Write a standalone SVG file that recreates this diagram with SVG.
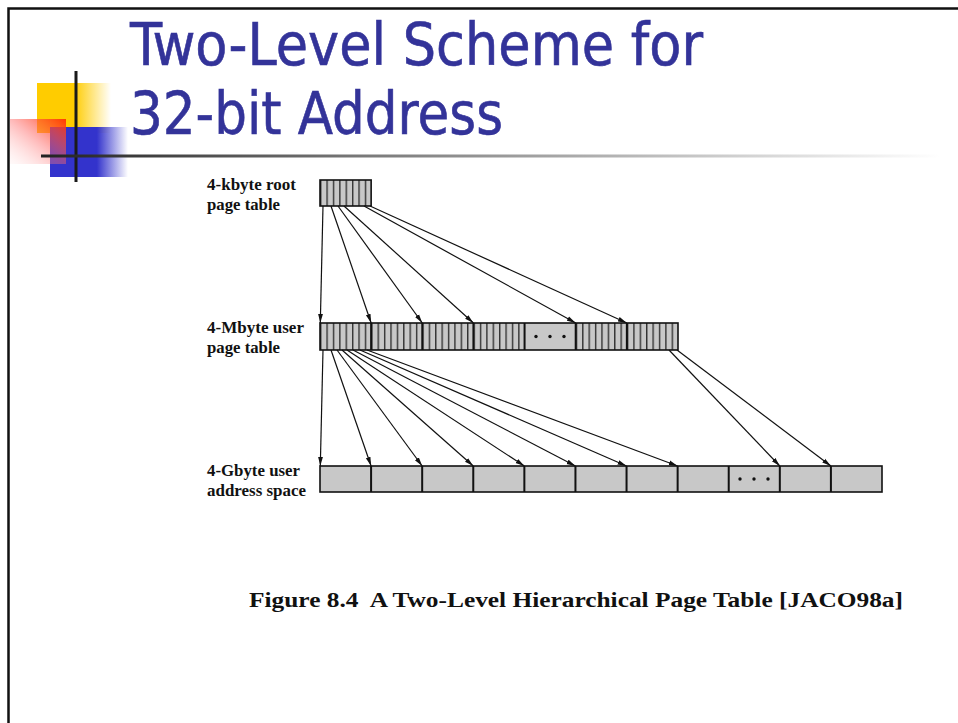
<svg xmlns="http://www.w3.org/2000/svg" width="958" height="723" viewBox="0 0 958 723">
<style>
.title{font-family:"DejaVu Sans Condensed","DejaVu Sans",sans-serif;font-size:59px;fill:#333399;stroke:#333399;stroke-width:0.6}
.lbl{font-family:"Liberation Serif","Times New Roman",serif;font-weight:bold;font-size:16.5px;fill:#111}
.cap{font-family:"Liberation Serif","Times New Roman",serif;font-weight:bold;font-size:22px;fill:#111}
.cell{fill:#c8c8c8}
.frame{fill:none;stroke:#111;stroke-width:1.6}
.div{stroke:#111;stroke-width:2}
.arr{stroke:#111;stroke-width:1.2;fill:none;marker-end:url(#ah)}
.dot{fill:#111}
</style>
<defs>
<marker id="ah" viewBox="0 0 9 6" refX="9" refY="3" markerWidth="9" markerHeight="6" markerUnits="userSpaceOnUse" orient="auto">
<path d="M0,0.6 L9,3 L0,5.4 z" fill="#111"/>
</marker>
<pattern id="stripe" x="320" y="0" width="6.3929" height="20" patternUnits="userSpaceOnUse">
<rect width="6.3929" height="20" fill="#c8c8c8"/>
<rect x="0" width="1.4" height="20" fill="#333"/>
</pattern>
<linearGradient id="gy" x1="0" y1="0" x2="1" y2="0">
<stop offset="0" stop-color="#ffcc00"/>
<stop offset="0.5" stop-color="#ffcc00"/>
<stop offset="1" stop-color="#ffcc00" stop-opacity="0"/>
</linearGradient>
<linearGradient id="gb" x1="0" y1="0" x2="1" y2="0">
<stop offset="0" stop-color="#3333cc"/>
<stop offset="0.6" stop-color="#3333cc"/>
<stop offset="1" stop-color="#3333cc" stop-opacity="0"/>
</linearGradient>
<linearGradient id="gr" x1="1" y1="0" x2="0" y2="1">
<stop offset="0" stop-color="#ff3300" stop-opacity="0.95"/>
<stop offset="0.5" stop-color="#ff6666" stop-opacity="0.45"/>
<stop offset="1" stop-color="#ffcccc" stop-opacity="0.1"/>
</linearGradient>
<linearGradient id="gl" x1="41" y1="0" x2="940" y2="0" gradientUnits="userSpaceOnUse">
<stop offset="0" stop-color="#222"/>
<stop offset="0.35" stop-color="#777"/>
<stop offset="1" stop-color="#fff"/>
</linearGradient>
</defs>

<rect width="958" height="723" fill="#fff"/>
<g id="slide-frame">
<path d="M8.5,723 V8.5 H958" fill="none" stroke="#111" stroke-width="2.5"/>
</g>

<g id="decoration">
<rect x="37" y="83" width="74" height="50" fill="url(#gy)"/>
<rect x="50" y="127" width="78" height="50" fill="url(#gb)"/>
<rect x="10" y="119" width="56" height="45" fill="url(#gr)"/>
<rect x="74.5" y="71" width="3" height="111" fill="#1a1a1a"/>
<rect x="41" y="154.5" width="910" height="3" fill="url(#gl)"/>
</g>

<g id="title">
<text class="title" x="130" y="65" textLength="573" lengthAdjust="spacingAndGlyphs">Two-Level Scheme for</text>
<text class="title" x="130" y="134" textLength="373" lengthAdjust="spacingAndGlyphs">32-bit Address</text>
</g>

<g id="root-table">
<text class="lbl" x="207" y="189.5" textLength="89" lengthAdjust="spacingAndGlyphs">4-kbyte root</text>
<text class="lbl" x="207" y="209.5" textLength="73" lengthAdjust="spacingAndGlyphs">page table</text>
<rect x="320" y="180" width="51.14" height="26" fill="url(#stripe)"/>
<rect class="frame" x="320" y="180" width="51.14" height="26"/>
</g>

<g id="user-page-table">
<text class="lbl" x="207" y="333" textLength="97" lengthAdjust="spacingAndGlyphs">4-Mbyte user</text>
<text class="lbl" x="207" y="353" textLength="73" lengthAdjust="spacingAndGlyphs">page table</text>
<rect x="320" y="323" width="358" height="27" fill="url(#stripe)"/>
<rect class="cell" x="524.57" y="323" width="51.14" height="27"/>
<path class="div" d="M371.14,323V350 M422.29,323V350 M473.43,323V350 M524.57,323V350 M575.71,323V350 M626.86,323V350"/>
<rect class="frame" x="320" y="323" width="358" height="27"/>
<circle class="dot" cx="536" cy="336.5" r="1.7"/>
<circle class="dot" cx="550" cy="336.5" r="1.7"/>
<circle class="dot" cx="564" cy="336.5" r="1.7"/>
</g>

<g id="user-address-space">
<text class="lbl" x="207" y="476" textLength="93" lengthAdjust="spacingAndGlyphs">4-Gbyte user</text>
<text class="lbl" x="207" y="496" textLength="99" lengthAdjust="spacingAndGlyphs">address space</text>
<rect class="cell" x="320" y="466" width="562" height="26"/>
<path class="div" d="M371.09,466V492 M422.18,466V492 M473.27,466V492 M524.36,466V492 M575.45,466V492 M626.55,466V492 M677.64,466V492 M728.73,466V492 M779.82,466V492 M830.91,466V492"/>
<rect class="frame" x="320" y="466" width="562" height="26"/>
<circle class="dot" cx="740" cy="479" r="1.7"/>
<circle class="dot" cx="754" cy="479" r="1.7"/>
<circle class="dot" cx="768" cy="479" r="1.7"/>
</g>

<g id="connectors">
<line class="arr" x1="323" y1="206" x2="320.3" y2="323"/>
<line class="arr" x1="331" y1="206" x2="371.14" y2="323"/>
<line class="arr" x1="338" y1="206" x2="422.29" y2="323"/>
<line class="arr" x1="344" y1="206" x2="473.43" y2="323"/>
<line class="arr" x1="364" y1="206" x2="575.71" y2="323"/>
<line class="arr" x1="370" y1="206" x2="626.86" y2="323"/>

<line class="arr" x1="323" y1="350" x2="320.3" y2="466"/>
<line class="arr" x1="331" y1="350" x2="371.09" y2="466"/>
<line class="arr" x1="337" y1="350" x2="422.18" y2="466"/>
<line class="arr" x1="342" y1="350" x2="473.27" y2="466"/>
<line class="arr" x1="347" y1="350" x2="524.36" y2="466"/>
<line class="arr" x1="353" y1="350" x2="575.45" y2="466"/>
<line class="arr" x1="360" y1="350" x2="626.55" y2="466"/>
<line class="arr" x1="367" y1="350" x2="677.64" y2="466"/>
<line class="arr" x1="669" y1="350" x2="779.82" y2="466"/>
<line class="arr" x1="677" y1="350" x2="830.91" y2="466"/>
</g>

<g id="caption">
<text class="cap" x="249" y="607" textLength="654" lengthAdjust="spacingAndGlyphs" xml:space="preserve">Figure 8.4  A Two-Level Hierarchical Page Table [JACO98a]</text>
</g>
</svg>
